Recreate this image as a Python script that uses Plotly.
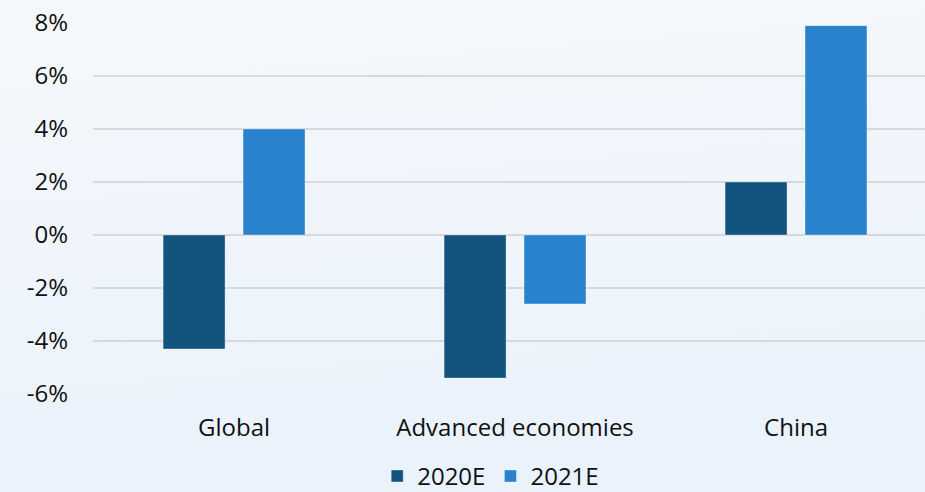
import base64
import plotly.graph_objects as go

categories = ["Global", "Advanced economies", "China"]
series_names = ["2020E", "2021E"]
values_2020 = [-4.3, -5.4, 2.0]
values_2021 = [4.0, -2.6, 7.9]
tick_vals = [-6, -4, -2, 0, 2, 4, 6, 8]
tick_text = ["-6%", "-4%", "-2%", "0%", "2%", "4%", "6%", "8%"]

colors = ["#13547f", "#2882cd"]
FONT = "Open Sans, Noto Sans, sans-serif"

svg = (
    '<svg xmlns="http://www.w3.org/2000/svg" width="100" height="100" preserveAspectRatio="none">'
    '<defs><linearGradient id="g" x1="0" y1="0" x2="0.15" y2="1">'
    '<stop offset="0" stop-color="#f5f8fb"/><stop offset="1" stop-color="#eaf2fc"/>'
    '</linearGradient></defs><rect width="100" height="100" fill="url(#g)"/></svg>'
)
bg_src = "data:image/svg+xml;base64," + base64.b64encode(svg.encode()).decode()

fig = go.Figure()
for name, vals, col in zip(series_names, [values_2020, values_2021], colors):
    fig.add_trace(go.Bar(
        x=categories, y=vals, name=name,
        marker=dict(color=col, line=dict(color="rgba(255,255,255,0.35)", width=1)),
    ))

fig.update_layout(
    width=925, height=492,
    margin=dict(l=93, r=0, t=23, b=98, autoexpand=False),
    paper_bgcolor="#eff5fb",
    plot_bgcolor="rgba(0,0,0,0)",
    barmode="group",
    bargap=0.431,
    bargroupgap=0.225,
    font=dict(family=FONT, size=24, color="#111111"),
    showlegend=True,
    legend=dict(
        orientation="h", x=0.478, xanchor="center", xref="paper",
        y=-0.222, yanchor="middle",
        font=dict(size=24, family=FONT, color="#111111"),
        bgcolor="rgba(0,0,0,0)", itemwidth=30, tracegroupgap=0,
    ),
    xaxis=dict(
        range=[-0.502, 2.459], showgrid=False, zeroline=False, showline=False,
        ticks="", ticklabelstandoff=17,
    ),
    yaxis=dict(
        range=[-6, 8], tickvals=tick_vals, ticktext=tick_text,
        showgrid=True, gridcolor="#d9d9d9", gridwidth=1.5,
        zeroline=True, zerolinecolor="#d9d9d9", zerolinewidth=1.5,
        showline=False, ticks="", ticklabelstandoff=24,
    ),
    images=[dict(
        source=bg_src, xref="paper", yref="paper", x=-93/832, y=1+23/371,
        sizex=925/832, sizey=492/371, sizing="stretch", layer="below",
        xanchor="left", yanchor="top",
    )],
)

fig.write_html(
    "out.html",
    config={"displayModeBar": False},
    post_script="document.body.style.margin='0';document.body.style.overflow='hidden';",
)
